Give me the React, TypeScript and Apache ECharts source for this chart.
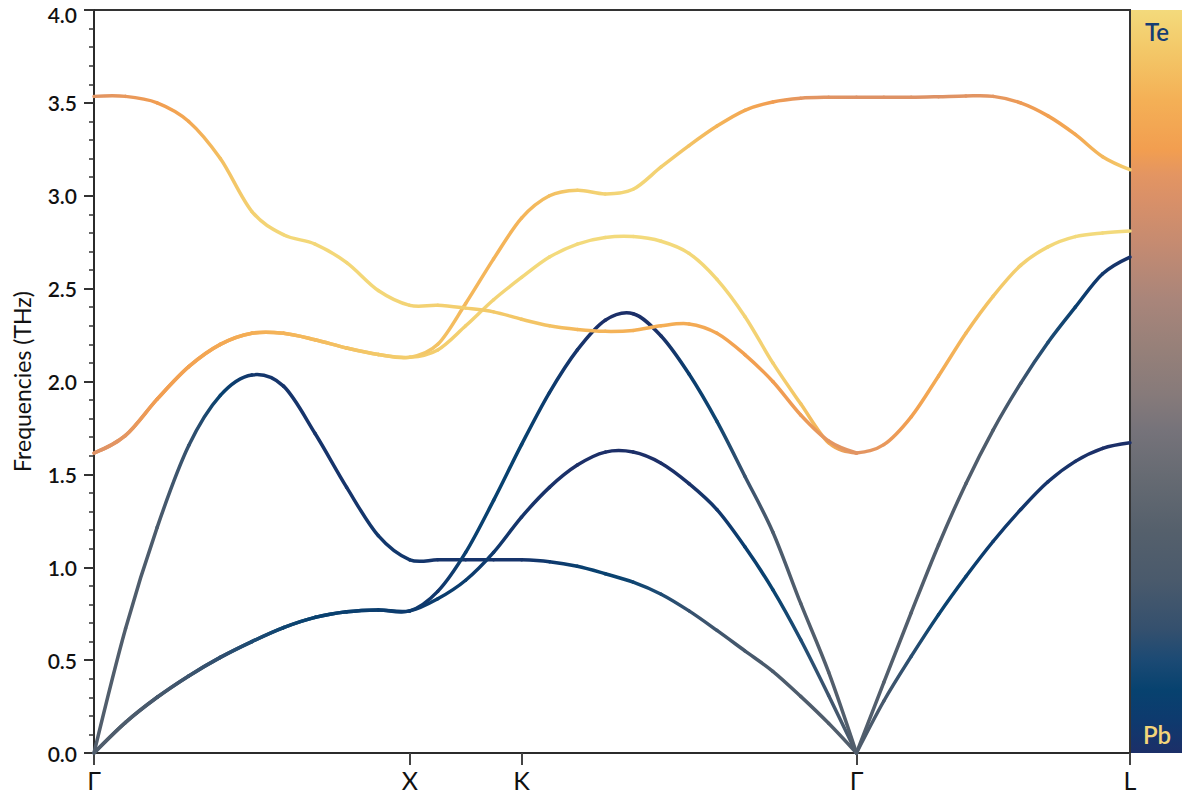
import React, { useEffect, useRef } from 'react';
import * as echarts from 'echarts';

// path distances (2pi/a) along G-X-K-G and G-L
const kGXKG = [
  0, 0.1, 0.2, 0.3, 0.4, 0.5, 0.6, 0.7, 0.8, 0.9, 1.0,
  1.0884, 1.1768, 1.2652, 1.3536,
  1.442, 1.5304, 1.6188, 1.7072, 1.7956, 1.884, 1.9724, 2.0608, 2.1492, 2.2376, 2.326, 2.4142,
];
const kGL = [2.4142, 2.5008, 2.5874, 2.674, 2.7606, 2.8472, 2.9338, 3.0204, 3.107, 3.1936, 3.2802];

const symK = [0, 1, 1.3536, 2.4142, 3.2802];
const symLabels = ['Γ', 'X', 'K', 'Γ', 'L'];

// frequencies (THz), G-X-K-G
const band1 = [0, 0.165, 0.3, 0.415, 0.515, 0.6, 0.675, 0.73, 0.76, 0.77, 0.765,
  0.83, 0.93, 1.08, 1.27, 1.43, 1.55, 1.62, 1.62, 1.56, 1.45, 1.31, 1.11, 0.88, 0.61, 0.31, 0];
const band2 = [0, 0.165, 0.3, 0.415, 0.515, 0.6, 0.675, 0.73, 0.76, 0.77, 0.765,
  0.87, 1.08, 1.36, 1.66, 1.94, 2.17, 2.33, 2.365, 2.245, 2.04, 1.785, 1.49, 1.19, 0.805, 0.435, 0];
const band3 = [0, 0.67, 1.215, 1.655, 1.925, 2.035, 1.975, 1.72, 1.43, 1.17, 1.04,
  1.04, 1.04, 1.04, 1.04, 1.03, 1.005, 0.965, 0.92, 0.855, 0.765, 0.66, 0.55, 0.44, 0.305, 0.16, 0];
const band4 = [1.615, 1.71, 1.905, 2.08, 2.2, 2.26, 2.26, 2.225, 2.18, 2.145, 2.13,
  2.17, 2.3, 2.44, 2.56, 2.67, 2.74, 2.775, 2.78, 2.755, 2.69, 2.55, 2.35, 2.1, 1.88, 1.67, 1.615];
const band5 = [1.615, 1.71, 1.905, 2.08, 2.2, 2.26, 2.26, 2.225, 2.18, 2.145, 2.13,
  2.2, 2.42, 2.66, 2.88, 3.0, 3.03, 3.01, 3.035, 3.155, 3.27, 3.375, 3.46, 3.505, 3.525, 3.53, 3.53];
const band6 = [3.535, 3.535, 3.5, 3.4, 3.2, 2.915, 2.79, 2.74, 2.64, 2.49, 2.41,
  2.41, 2.395, 2.375, 2.335, 2.3, 2.28, 2.27, 2.275, 2.3, 2.31, 2.26, 2.145, 2.0, 1.82, 1.68, 1.615];

// Te fraction of each mode, G-X-K-G
const te1 = [0.27, 0.25, 0.22, 0.19, 0.16, 0.13, 0.1, 0.08, 0.07, 0.06, 0.05,
  0.06, 0.06, 0.04, 0.02, 0.01, 0, 0, 0, 0, 0.01, 0.03, 0.06, 0.09, 0.13, 0.2, 0.27];
const te2 = [0.27, 0.25, 0.22, 0.19, 0.16, 0.13, 0.1, 0.08, 0.07, 0.06, 0.05,
  0.03, 0.07, 0.08, 0.08, 0.05, 0.02, 0, 0, 0.01, 0.06, 0.1, 0.18, 0.24, 0.27, 0.28, 0.28];
const te3 = [0.28, 0.27, 0.24, 0.17, 0.08, 0.03, 0.02, 0.02, 0.02, 0.03, 0.03,
  0.02, 0.02, 0.02, 0.02, 0.04, 0.07, 0.08, 0.1, 0.13, 0.17, 0.2, 0.22, 0.24, 0.26, 0.27, 0.28];
const te4 = [0.76, 0.78, 0.81, 0.83, 0.85, 0.87, 0.89, 0.91, 0.93, 0.95, 0.96,
  0.96, 0.97, 0.98, 0.99, 1, 1, 1, 1, 1, 0.99, 0.99, 0.98, 0.97, 0.94, 0.86, 0.77];
const te5 = [0.76, 0.78, 0.81, 0.83, 0.85, 0.87, 0.89, 0.91, 0.93, 0.95, 0.96,
  0.93, 0.9, 0.89, 0.89, 0.92, 0.96, 0.98, 0.99, 0.97, 0.93, 0.89, 0.85, 0.81, 0.78, 0.77, 0.76];
const te6 = [0.77, 0.79, 0.81, 0.85, 0.92, 0.97, 0.99, 0.99, 0.99, 0.99, 0.98,
  0.97, 0.96, 0.95, 0.94, 0.93, 0.9, 0.89, 0.88, 0.87, 0.86, 0.84, 0.82, 0.81, 0.8, 0.78, 0.77];

// G-L (TA and TO are doubly degenerate)
const glTA = [0, 0.28, 0.52, 0.745, 0.95, 1.14, 1.31, 1.46, 1.57, 1.64, 1.67];
const glLA = [0, 0.38, 0.755, 1.12, 1.45, 1.74, 1.99, 2.21, 2.4, 2.58, 2.67];
const glTO = [1.615, 1.66, 1.81, 2.03, 2.26, 2.46, 2.625, 2.725, 2.78, 2.8, 2.81];
const glLO = [3.53, 3.53, 3.53, 3.533, 3.537, 3.535, 3.5, 3.43, 3.33, 3.21, 3.14];
const teGlTA = [0.27, 0.22, 0.15, 0.09, 0.07, 0.05, 0.03, 0.02, 0.01, 0, 0];
const teGlLA = [0.28, 0.28, 0.28, 0.27, 0.27, 0.25, 0.2, 0.13, 0.07, 0.03, 0.01];
const teGlTO = [0.77, 0.79, 0.82, 0.86, 0.9, 0.94, 0.97, 0.99, 1, 1, 1];
const teGlLO = [0.76, 0.76, 0.76, 0.76, 0.77, 0.78, 0.8, 0.82, 0.85, 0.9, 0.96];

// colour map Pb (0) -> Te (1)
const CMAP: [number, string][] = [
  [0, '#1c2f68'], [0.044, '#0e3a6e'], [0.085, '#07426f'], [0.126, '#1c4a74'],
  [0.166, '#34506e'], [0.233, '#4a5a6c'], [0.3, '#55606c'], [0.368, '#656a72'],
  [0.435, '#76737a'], [0.481, '#867a7a'], [0.543, '#968079'], [0.61, '#a9857a'],
  [0.677, '#c28a72'], [0.745, '#d99068'], [0.778, '#e39562'], [0.812, '#f29e50'],
  [0.879, '#f4b056'], [0.946, '#f3c868'], [1, '#f3da7c'],
];

const FONT = "Lato, 'Noto Sans', 'DejaVu Sans', sans-serif";

function hexRgb(h: string) {
  return [1, 3, 5].map((i) => parseInt(h.slice(i, i + 2), 16));
}

function cmap(v: number) {
  const t = Math.max(0, Math.min(1, v));
  for (let i = 1; i < CMAP.length; i++) {
    if (t <= CMAP[i][0]) {
      const [o0, c0] = CMAP[i - 1];
      const [o1, c1] = CMAP[i];
      const f = (t - o0) / (o1 - o0);
      const a = hexRgb(c0);
      const b = hexRgb(c1);
      const rgb = a.map((x, j) => Math.round(x + (b[j] - x) * f));
      return `rgb(${rgb.join(',')})`;
    }
  }
  return CMAP[CMAP.length - 1][1];
}

// each band is drawn segment by segment as cubic (Hermite) curves,
// coloured by the Te fraction at both ends
function bandSeries(k: number[], f: number[], te: number[]) {
  const n = k.length;
  return {
    type: 'custom',
    coordinateSystem: 'cartesian2d',
    silent: true,
    encode: { x: 0, y: 1 },
    data: k.map((x, i) => [x, f[i], te[i]]),
    renderItem: (params: any, api: any) => {
      const i = params.dataIndex;
      if (i >= n - 1) return null;
      const P: number[][] = k.map((x, j) => api.coord([x, f[j]]));
      const sec = (j: number) => (P[j + 1][1] - P[j][1]) / (P[j + 1][0] - P[j][0]);
      const inner = (j: number) => (P[j + 1][1] - P[j - 1][1]) / (P[j + 1][0] - P[j - 1][0]);
      const slope = (j: number) => {
        if (j === 0) return (3 * sec(0) - inner(1)) / 2;
        if (j === n - 1) return (3 * sec(n - 2) - inner(n - 2)) / 2;
        return inner(j);
      };
      const [x1, y1] = P[i];
      const [x2, y2] = P[i + 1];
      const d = (x2 - x1) / 3;
      const m1 = slope(i);
      const m2 = slope(i + 1);
      return {
        type: 'bezierCurve',
        shape: {
          x1, y1, x2, y2,
          cpx1: x1 + d, cpy1: y1 + m1 * d,
          cpx2: x2 - d, cpy2: y2 - m2 * d,
        },
        style: {
          fill: 'none',
          stroke: new echarts.graphic.LinearGradient(
            x1, 0, x2, 0,
            [{ offset: 0, color: cmap(te[i]) }, { offset: 1, color: cmap(te[i + 1]) }],
            true
          ),
          lineWidth: 3.5,
          lineCap: 'round',
        },
      };
    },
  };
}

export default function App() {
  const ref = useRef<HTMLDivElement>(null);

  useEffect(() => {
    const chart = echarts.init(ref.current, null, { renderer: 'svg' });

    const series = [
      bandSeries(kGXKG, band3, te3),
      bandSeries(kGXKG, band1, te1),
      bandSeries(kGXKG, band2, te2),
      bandSeries(kGL, glLA, teGlLA),
      bandSeries(kGL, glTA, teGlTA),
      bandSeries(kGXKG, band4, te4),
      bandSeries(kGXKG, band5, te5),
      bandSeries(kGXKG, band6, te6),
      bandSeries(kGL, glTO, teGlTO),
      bandSeries(kGL, glLO, teGlLO),
    ];

    const labelFont = { fontSize: 21, fontWeight: 600, color: '#111', fontFamily: FONT };

    chart.setOption({
      animation: false,
      grid: {
        left: 94, right: 70, top: 10, bottom: 43,
        show: true, borderColor: '#333', borderWidth: 2,
      },
      xAxis: {
        type: 'value',
        min: 0,
        max: 3.2802,
        axisLine: { lineStyle: { color: '#2b2b2b', width: 2 } },
        axisTick: { show: true, customValues: symK, length: 12, lineStyle: { color: '#444', width: 2 } },
        axisLabel: {
          customValues: symK,
          formatter: (v: number) => {
            const i = symK.findIndex((s) => Math.abs(s - v) < 1e-3);
            return i >= 0 ? symLabels[i] : '';
          },
          fontSize: 25,
          color: '#111',
          fontFamily: FONT,
          margin: 14,
        },
        splitLine: { show: false },
      },
      yAxis: {
        type: 'value',
        min: 0,
        max: 4,
        interval: 0.5,
        name: 'Frequencies (THz)',
        nameLocation: 'middle',
        nameGap: 61,
        nameTextStyle: { fontSize: 23, color: '#111', fontFamily: FONT },
        axisLine: { show: true, lineStyle: { color: '#2b2b2b', width: 2 } },
        axisTick: { show: true, length: 10, lineStyle: { color: '#333', width: 2 } },
        minorTick: { show: true, splitNumber: 5, length: 5, lineStyle: { color: '#333', width: 1.5 } },
        axisLabel: {
          formatter: (v: number) => (v === 4 ? '{t|4.0}' : v.toFixed(1)),
          ...labelFont,
          margin: 17,
          rich: { t: { ...labelFont, padding: [8, 0, 0, 0] } },
        },
        splitLine: { show: false },
      },
      graphic: [
        {
          type: 'rect',
          shape: { x: 1131, y: 10, width: 51, height: 743 },
          style: {
            fill: new echarts.graphic.LinearGradient(
              0, 1, 0, 0,
              CMAP.map(([o, c]) => ({ offset: o, color: c }))
            ),
          },
          z: 1,
        },
        {
          type: 'text',
          x: 1157,
          y: 31,
          style: {
            text: 'Te', fill: '#163d73', fontSize: 24, fontWeight: 600, fontFamily: FONT,
            align: 'center', verticalAlign: 'middle', textAlign: 'center', textVerticalAlign: 'middle',
          },
          z: 2,
        },
        {
          type: 'text',
          x: 1157,
          y: 734,
          style: {
            text: 'Pb', fill: '#f3d67a', fontSize: 24, fontWeight: 600, fontFamily: FONT,
            align: 'center', verticalAlign: 'middle', textAlign: 'center', textVerticalAlign: 'middle',
          },
          z: 2,
        },
      ],
      series,
    });

    return () => chart.dispose();
  }, []);

  return (
    <div
      ref={ref}
      style={{ position: 'fixed', left: 0, top: 0, width: 1200, height: 796, background: '#fff' }}
    />
  );
}
